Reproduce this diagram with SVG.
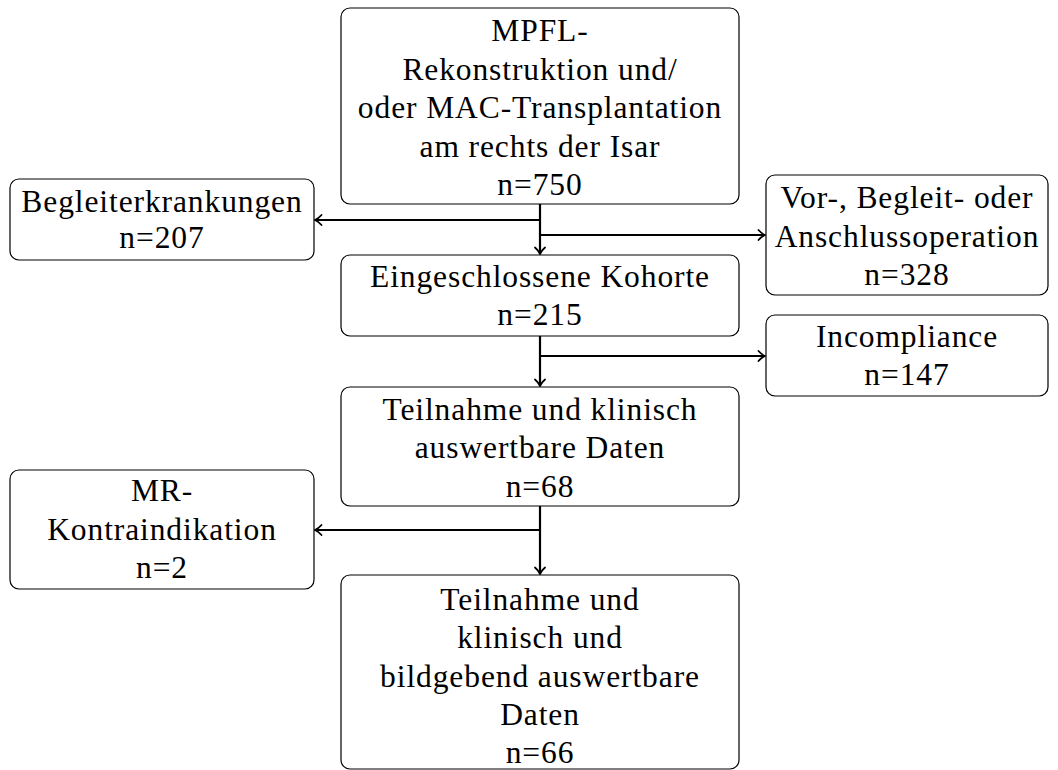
<svg xmlns="http://www.w3.org/2000/svg" width="1058" height="770" viewBox="0 0 1058 770">
<style>
.box{fill:#fff;stroke:#000;stroke-width:1.2}
.t{font-family:"Liberation Serif","Times New Roman",serif;font-size:31.5px;letter-spacing:0.9px;fill:#000;text-anchor:middle}
.c{fill:none;stroke:#000;stroke-width:2.2}
</style>
<defs>
<marker id="ah" markerWidth="14" markerHeight="14" refX="11" refY="7" orient="auto" markerUnits="userSpaceOnUse">
<path d="M4.5,2 Q7.5,5.5 11,7 Q7.5,8.5 4.5,12" fill="none" stroke="#000" stroke-width="1.8" stroke-linecap="round"/>
</marker>
</defs>
<rect width="1058" height="770" fill="#fff"/>
<g id="connectors">
<line class="c" x1="540" y1="204" x2="540" y2="254" marker-end="url(#ah)"/>
<line class="c" x1="540" y1="220" x2="315" y2="220" marker-end="url(#ah)"/>
<line class="c" x1="540" y1="235" x2="765" y2="235" marker-end="url(#ah)"/>
<line class="c" x1="540" y1="336" x2="540" y2="386" marker-end="url(#ah)"/>
<line class="c" x1="540" y1="356" x2="765" y2="356" marker-end="url(#ah)"/>
<line class="c" x1="540" y1="506" x2="540" y2="574" marker-end="url(#ah)"/>
<line class="c" x1="540" y1="530" x2="315" y2="530" marker-end="url(#ah)"/>
</g>
<g id="n1">
<rect class="box" x="341" y="8" width="398" height="196" rx="9"/>
<text class="t" x="540" y="41">MPFL-</text>
<text class="t" x="540" y="79.5">Rekonstruktion und/</text>
<text class="t" x="540" y="118">oder MAC-Transplantation</text>
<text class="t" x="540" y="156.5">am rechts der Isar</text>
<text class="t" x="540" y="195">n=750</text>
</g>
<g id="n2">
<rect class="box" x="10" y="179" width="304" height="81" rx="9"/>
<text class="t" x="162" y="212">Begleiterkrankungen</text>
<text class="t" x="162" y="248">n=207</text>
</g>
<g id="n3">
<rect class="box" x="766" y="175" width="282" height="120" rx="9"/>
<text class="t" x="907" y="208">Vor-, Begleit- oder</text>
<text class="t" x="907" y="247">Anschlussoperation</text>
<text class="t" x="907" y="285">n=328</text>
</g>
<g id="n4">
<rect class="box" x="341" y="255" width="398" height="81" rx="9"/>
<text class="t" x="540" y="287">Eingeschlossene Kohorte</text>
<text class="t" x="540" y="325">n=215</text>
</g>
<g id="n5">
<rect class="box" x="766" y="315" width="282" height="81" rx="9"/>
<text class="t" x="907" y="347">Incompliance</text>
<text class="t" x="907" y="385">n=147</text>
</g>
<g id="n6">
<rect class="box" x="341" y="387" width="398" height="119" rx="9"/>
<text class="t" x="540" y="420">Teilnahme und klinisch</text>
<text class="t" x="540" y="458">auswertbare Daten</text>
<text class="t" x="540" y="497">n=68</text>
</g>
<g id="n7">
<rect class="box" x="10" y="470" width="304" height="119" rx="9"/>
<text class="t" x="162" y="501">MR-</text>
<text class="t" x="162" y="540">Kontraindikation</text>
<text class="t" x="162" y="578">n=2</text>
</g>
<g id="n8">
<rect class="box" x="341" y="575" width="398" height="194" rx="9"/>
<text class="t" x="540" y="610">Teilnahme und</text>
<text class="t" x="540" y="648">klinisch und</text>
<text class="t" x="540" y="687">bildgebend auswertbare</text>
<text class="t" x="540" y="725">Daten</text>
<text class="t" x="540" y="763">n=66</text>
</g>
</svg>
